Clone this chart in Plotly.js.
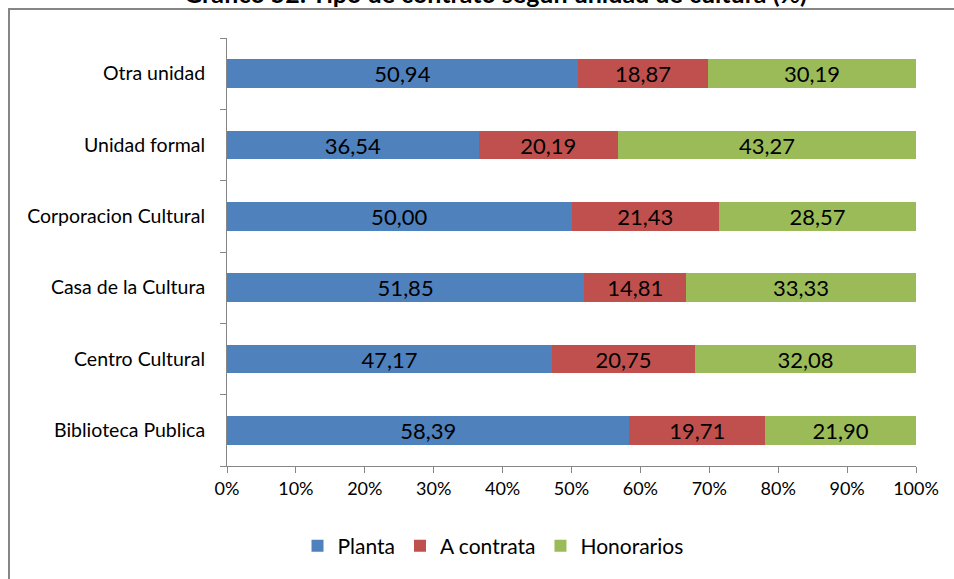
<!DOCTYPE html>
<html>
<head>
<meta charset="utf-8">
<script src="https://cdn.plot.ly/plotly-3.0.1.min.js"></script>
<style>html,body{margin:0;padding:0;background:#fff;}#chart{width:954px;height:579px;overflow:hidden;}</style>
</head>
<body>
<div id="chart"></div>
<script>
const categories = ["Biblioteca Publica", "Centro Cultural", "Casa de la Cultura", "Corporacion Cultural", "Unidad formal", "Otra unidad"];
const planta = [58.39, 47.17, 51.85, 50.00, 36.54, 50.94];
const aContrata = [19.71, 20.75, 14.81, 21.43, 20.19, 18.87];
const honorarios = [21.90, 32.08, 33.33, 28.57, 43.27, 30.19];
const seriesNames = ["Planta", "A contrata", "Honorarios"];
const tickVals = [0, 10, 20, 30, 40, 50, 60, 70, 80, 90, 100];
const tickText = ["0%", "10%", "20%", "30%", "40%", "50%", "60%", "70%", "80%", "90%", "100%"];
const colors = ["#4F81BD", "#C0504D", "#9BBB59"];
const chartTitle = "Gráfico 52: Tipo de contrato según unidad de cultura (%)";
const fmt = v => v.toFixed(2).replace(".", ",");
const FONT = "Lato, 'Open Sans', sans-serif";

const data = [planta, aContrata, honorarios].map((vals, i) => ({
  type: "bar",
  orientation: "h",
  name: seriesNames[i],
  y: categories,
  x: vals,
  text: vals.map(fmt),
  textposition: "inside",
  insidetextanchor: "middle",
  textangle: 0,
  textfont: {family: FONT, size: 22, color: "#000"},
  constraintext: "none",
  marker: {color: colors[i], line: {width: 0}},
  hoverinfo: "none"
}));

const L = 227, R = 38, T = 38, B = 113, W = 954, H = 579;
const pw = W - L - R, ph = H - T - B;
const px = x => (x - L) / pw;
const py = y => (H - B - y) / ph;

const layout = {
  width: W, height: H,
  margin: {l: L, r: R, t: T, b: B},
  paper_bgcolor: "#fff",
  plot_bgcolor: "#fff",
  barmode: "stack",
  bargap: 0.6,
  showlegend: true,
  font: {family: FONT, size: 18, color: "#000"},
  annotations: [{
    text: "<b>" + chartTitle + "</b>",
    xref: "paper", yref: "paper",
    x: px(495), xanchor: "center",
    y: py(10), yanchor: "bottom",
    showarrow: false,
    font: {family: FONT, size: 25, color: "#000"}
  }],
  xaxis: {
    range: [0, 100],
    tickvals: tickVals,
    ticktext: tickText,
    showgrid: false,
    zeroline: false,
    showline: true,
    linecolor: "#868686",
    linewidth: 1,
    ticks: "outside",
    ticklen: 6,
    tickcolor: "#868686",
    tickfont: {family: FONT, size: 18, color: "#000"},
    fixedrange: true
  },
  yaxis: {
    showgrid: false,
    zeroline: false,
    showline: true,
    linecolor: "#868686",
    linewidth: 1,
    ticks: "outside",
    tickson: "boundaries",
    ticklen: 6,
    tickcolor: "#868686",
    ticklabelstandoff: 17,
    tickfont: {family: FONT, size: 19.5, color: "#000"},
    fixedrange: true
  },
  legend: {
    orientation: "h",
    x: px(493), xanchor: "center",
    y: py(546), yanchor: "middle",
    font: {family: FONT, size: 21, color: "#000"},
    itemwidth: 30,
    traceorder: "normal"
  },
  shapes: [{
    type: "rect", xref: "paper", yref: "paper",
    x0: px(9), x1: px(960), y0: py(590), y1: py(9),
    line: {color: "#868686", width: 2},
    fillcolor: "rgba(0,0,0,0)",
    layer: "below"
  }]
};

Plotly.newPlot("chart", data, layout, {displayModeBar: false, staticPlot: true});
</script>
</body>
</html>
